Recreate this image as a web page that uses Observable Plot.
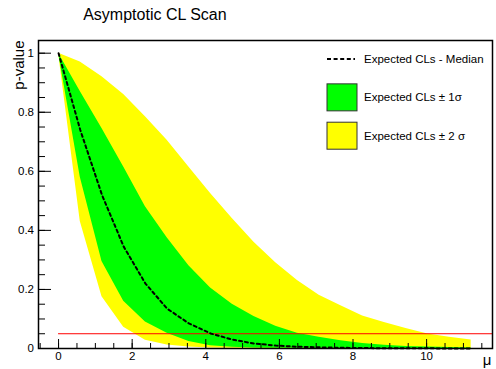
<!DOCTYPE html>
<html>
<head>
<meta charset="utf-8">
<script src="https://cdn.jsdelivr.net/npm/d3@7"></script>
<script src="https://cdn.jsdelivr.net/npm/@observablehq/plot@0.6"></script>
<style>
  body { margin: 0; background: #fff; }
  svg { display: block; }
</style>
</head>
<body>
<div id="chart"></div>
<script>
// Scan points in the signal strength mu
const mu = [0, 0.59, 1.18, 1.77, 2.36, 2.95, 3.54, 4.13, 4.72, 5.31, 5.9, 6.49, 7.08, 7.67, 8.26, 8.85, 9.44, 10.03, 10.62, 11.21];
// Expected CLs median and the 1 / 2 sigma band edges
const median = [1, 0.74, 0.52, 0.345, 0.22, 0.135, 0.085, 0.051, 0.03, 0.017, 0.01, 0.006, 0.004, 0.0025, 0.0015, 0.001, 0.0007, 0.0005, 0.0003, 0.0002];
const lo1 = [1, 0.58, 0.295, 0.16, 0.09, 0.052, 0.024, 0.009, 0.004, 0.002, 0.0012, 0.0008, 0.0005, 0.0003, 0.0002, 0.0001, 0.0001, 0, 0, 0];
const hi1 = [1, 0.87, 0.745, 0.615, 0.48, 0.375, 0.28, 0.205, 0.15, 0.108, 0.075, 0.052, 0.038, 0.026, 0.017, 0.011, 0.007, 0.005, 0.003, 0.002];
const lo2 = [1, 0.43, 0.175, 0.072, 0.028, 0.012, 0.005, 0.002, 0.001, 0.0005, 0.0003, 0.0002, 0.0001, 0.0001, 0, 0, 0, 0, 0, 0];
const hi2 = [1, 0.97, 0.92, 0.86, 0.785, 0.705, 0.615, 0.525, 0.44, 0.36, 0.29, 0.23, 0.18, 0.145, 0.11, 0.088, 0.068, 0.049, 0.038, 0.029];

// CL threshold
const clLevel = 0.05;

// Axis domains and ticks
const muDomain = [-0.545, 11.79];
const pDomain = [0, 1.043];
const xMajor = [0, 2, 4, 6, 8, 10];
const xMinor = d3.range(-0.5, 11.51, 0.5);
const yMajor = [0, 0.2, 0.4, 0.6, 0.8, 1];
const yMinor = d3.range(0, 1.001, 0.05);

const title = "Asymptotic CL Scan";
const yTitle = "p-value";
const xTitle = "μ";
const legendItems = [
  {label: "Expected CLs - Median", kind: "line"},
  {label: "Expected CLs ± 1σ", kind: "box", fill: "#00ff00"},
  {label: "Expected CLs ± 2 σ", kind: "box", fill: "#ffff00"}
];

const FONT = "'Liberation Sans', Arial, Helvetica, sans-serif";

const rows = mu.map((m, i) => ({mu: m, median: median[i], lo1: lo1[i], hi1: hi1[i], lo2: lo2[i], hi2: hi2[i]}));

// Legend drawn in the upper right corner of the frame
function legend(index, scales, values, dims) {
  const right = dims.width - dims.marginRight;
  const top = dims.marginTop;
  const g = d3.create("svg:g")
    .attr("font-family", FONT)
    .attr("font-size", 11.5)
    .attr("text-anchor", "start")
    .attr("fill", "#000");
  legendItems.forEach((item, i) => {
    const cy = top + 19 + i * 38.35;
    if (item.kind === "line") {
      g.append("line")
        .attr("x1", right - 165).attr("x2", right - 137)
        .attr("y1", cy).attr("y2", cy)
        .attr("stroke", "#000").attr("stroke-width", 2)
        .attr("stroke-dasharray", "4,2.6");
    } else {
      g.append("rect")
        .attr("x", right - 165).attr("y", cy - 13.5)
        .attr("width", 30).attr("height", 27)
        .attr("fill", item.fill).attr("stroke", "#333").attr("stroke-width", 1);
    }
    g.append("text")
      .attr("x", right - 128).attr("y", cy)
      .attr("dy", "0.35em")
      .attr("text-anchor", "start")
      .text(item.label);
  });
  return g.node();
}

const chart = Plot.plot({
  width: 496,
  height: 369,
  marginLeft: 38,
  marginRight: 4,
  marginTop: 40,
  marginBottom: 21,
  style: {fontFamily: FONT, fontSize: "11.5px", background: "#fff", color: "#000"},
  x: {domain: muDomain},
  y: {domain: pDomain},
  marks: [
    Plot.areaY(rows, {x: "mu", y1: "lo2", y2: "hi2", fill: "#ffff00", fillOpacity: 1}),
    Plot.areaY(rows, {x: "mu", y1: "lo1", y2: "hi1", fill: "#00ff00", fillOpacity: 1}),
    Plot.ruleY([clLevel], {y: d => d, x1: 0, x2: muDomain[1], stroke: "#ff0000", strokeWidth: 1}),
    Plot.line(rows, {x: "mu", y: "median", stroke: "#000", strokeWidth: 2, strokeDasharray: "3,3"}),
    Plot.frame({stroke: "#000", strokeWidth: 1.5}),
    // inward tick marks
    Plot.axisY({ticks: yMinor, anchor: "left", tickSize: -7, tickFormat: () => "", label: null}),
    Plot.axisY({ticks: yMajor, anchor: "left", tickSize: -13, tickFormat: () => "", label: null}),
    Plot.axisX({ticks: xMinor, anchor: "bottom", tickSize: -5, tickFormat: () => "", label: null}),
    Plot.axisX({ticks: xMajor, anchor: "bottom", tickSize: -9, tickFormat: () => "", label: null}),
    // tick labels
    Plot.axisY({ticks: yMajor, anchor: "left", tickSize: 0, tickPadding: 4.5, tickFormat: d => String(d), label: null, fontSize: 11.5}),
    Plot.axisX({ticks: xMajor, anchor: "bottom", tickSize: 0, tickPadding: 3, tickFormat: d => String(d), label: null, fontSize: 11.5}),
    // titles
    Plot.text([title], {text: d => d, frameAnchor: "top-left", dx: 44.7, dy: -26, textAnchor: "start", lineAnchor: "middle", fontSize: 16}),
    Plot.text([yTitle], {text: d => d, frameAnchor: "top-left", dx: -19, dy: 0, rotate: -90, textAnchor: "end", lineAnchor: "middle", fontSize: 15}),
    Plot.text([xTitle], {text: d => d, frameAnchor: "bottom-right", dx: -5.3, dy: 12, textAnchor: "middle", lineAnchor: "middle", fontSize: 15}),
    legend
  ]
});

document.getElementById("chart").appendChild(chart);
</script>
</body>
</html>
